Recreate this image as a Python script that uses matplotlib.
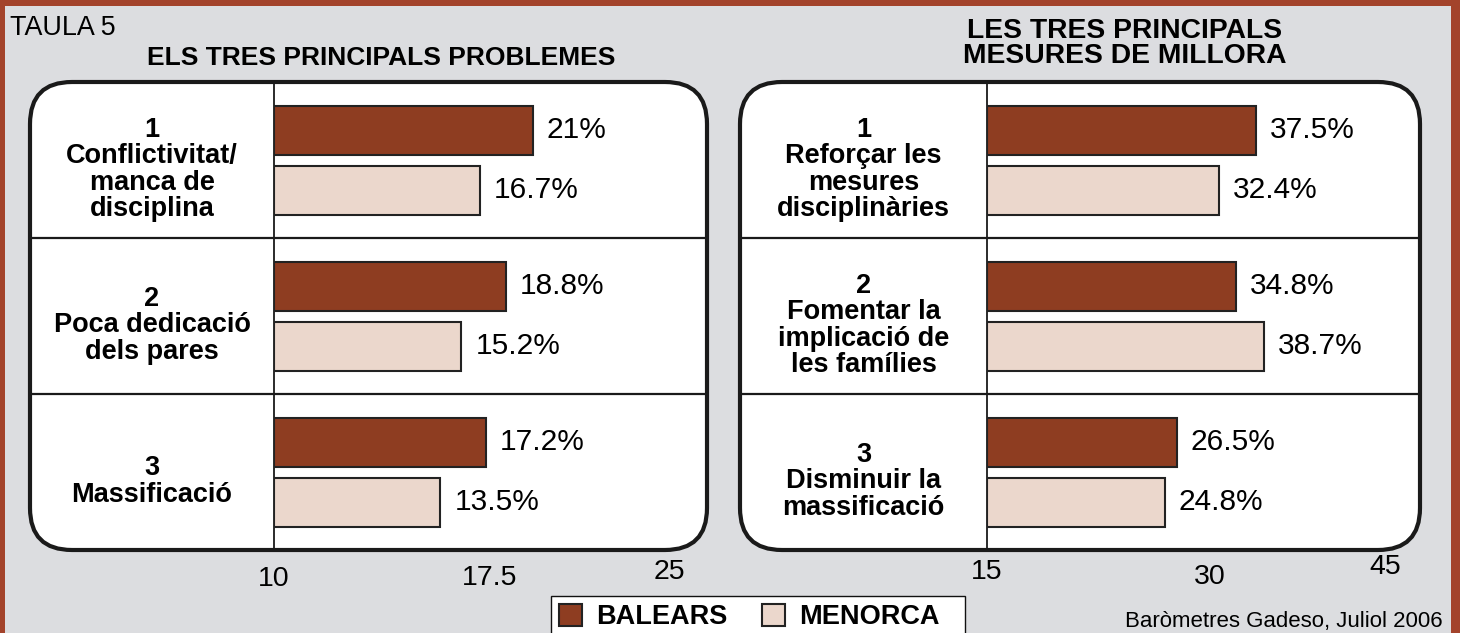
import matplotlib.pyplot as plt
from matplotlib.patches import FancyBboxPatch, Rectangle

# dades
problemes = ["1\nConflictivitat/\nmanca de\ndisciplina", "2\nPoca dedicació\ndels pares", "3\nMassificació"]
problemes_balears = [21, 18.8, 17.2]
problemes_menorca = [16.7, 15.2, 13.5]

mesures = ["1\nReforçar les\nmesures\ndisciplinàries", "2\nFomentar la\nimplicació de\nles famílies", "3\nDisminuir la\nmassificació"]
mesures_balears = [37.5, 34.8, 26.5]
mesures_menorca = [32.4, 38.7, 24.8]

# ticks tal com surten a l'original (posicio, etiqueta)
ticks_esq = [0, 17.5, 32.1]
ticks_esq_txt = ["10", "17.5", "25"]
ticks_dre = [0, 31.1, 55.6]
ticks_dre_txt = ["15", "30", "45"]

c_bal = "#8e3d21"
c_men = "#ebd7cc"
fons = "#dcdde0"
vora = "#a3432b"

plt.rcParams['font.family'] = ['Liberation Sans', 'DejaVu Sans']

W, H = 1460, 633
fig = plt.figure(figsize=(W / 100, H / 100), dpi=100, facecolor=fons)

bg = fig.add_axes([0, 0, 1, 1])
bg.set_xlim(0, W)
bg.set_ylim(H, 0)
bg.axis('off')

# marc marró
bg.add_patch(Rectangle((0, 0), W, 6, color=vora, lw=0))
bg.add_patch(Rectangle((0, 0), 5, H, color=vora, lw=0))
bg.add_patch(Rectangle((1451, 0), 9, H, color=vora, lw=0))

bg.text(10, 28, "TAULA 5", fontsize=19.4, va='center', ha='left')
bg.text(381, 58, "ELS TRES PRINCIPALS PROBLEMES", fontsize=19, fontweight='bold', ha='center', va='center')
bg.text(1125, 31, "LES TRES PRINCIPALS", fontsize=20.3, fontweight='bold', ha='center', va='center')
bg.text(1125, 56, "MESURES DE MILLORA", fontsize=20.3, fontweight='bold', ha='center', va='center')
bg.text(1443, 627, "Baròmetres Gadeso, Juliol 2006", fontsize=16, ha='right', va='baseline')

top, bot = 82, 550
caixes = [(30, 707, 274), (740, 1420, 987)]
for x0, x1, xd in caixes:
    bg.add_patch(FancyBboxPatch((x0, top), x1 - x0, bot - top, boxstyle="round,pad=0,rounding_size=42",
                                fc='white', ec='#1a1a1a', lw=3))
    bg.plot([xd, xd], [top, bot], color='#1a1a1a', lw=1.3)
    for k in (1, 2):
        yy = top + (bot - top) * k / 3
        bg.plot([x0 + 1, x1 - 1], [yy, yy], color='#1a1a1a', lw=1.6)

# caixa de la llegenda
bg.add_patch(Rectangle((551, 596), 414, 50, fc='white', ec='#111111', lw=1.0))


def panell(x0, xd, x1, px_unitat, etiquetes, bal, men, ticks, ticks_txt, ticks_dy):
    ax = fig.add_axes([xd / W, 1 - bot / H, (x1 - xd) / W, (bot - top) / H])
    ax.set_xlim(0, (x1 - xd) / px_unitat)
    ax.set_ylim(2.5, -0.5)
    ax.patch.set_alpha(0)
    for s in ax.spines.values():
        s.set_visible(False)
    ax.set_yticks([])
    ax.set_xticks(ticks)
    ax.set_xticklabels(ticks_txt, fontsize=20.5)
    ax.tick_params(axis='x', length=0, pad=10)
    for lbl, dy in zip(ax.get_xticklabels(), ticks_dy):
        lbl.set_y(dy / (bot - top))

    pos = range(len(bal))
    b1 = ax.barh([p - 0.19 for p in pos], bal, height=0.31, color=c_bal, edgecolor='#222222', lw=1.5, label="BALEARS")
    b2 = ax.barh([p + 0.195 for p in pos], men, height=0.31, color=c_men, edgecolor='#222222', lw=1.5, label="MENORCA")
    for barres, vals in ((b1, bal), (b2, men)):
        for r, v in zip(barres, vals):
            ax.annotate(f"{v:g}%", (v, r.get_y() + r.get_height() / 2), xytext=(10, 0),
                        textcoords='offset points', va='center', ha='left', fontsize=21.5)

    xc_ax = ((x0 + xd) / 2 - xd) / (x1 - xd)
    for p, t in zip(pos, etiquetes):
        ax.text(xc_ax, p + 0.06, t, transform=ax.get_yaxis_transform(), ha='center', va='center',
                fontsize=19.5, fontweight='bold', linespacing=1.02)
    return b1, b2


h = panell(30, 274, 707, 12.33, problemes, problemes_balears, problemes_menorca,
           ticks_esq, ticks_esq_txt, [-2, -1, 5])
panell(740, 987, 1420, 7.16, mesures, mesures_balears, mesures_menorca,
       ticks_dre, ticks_dre_txt, [5, 0, 10])

leg = fig.legend(handles=list(h), labels=["BALEARS", "MENORCA"], ncol=2, loc='upper left',
                 bbox_to_anchor=(551 / W, 1 - 596 / H), borderaxespad=0, frameon=False,
                 prop={'weight': 'bold', 'size': 19.5}, handlelength=0.85, handleheight=0.85,
                 handletextpad=0.5, columnspacing=1.3, borderpad=0.3)

fig.savefig("out.png", dpi=100, facecolor=fons)
